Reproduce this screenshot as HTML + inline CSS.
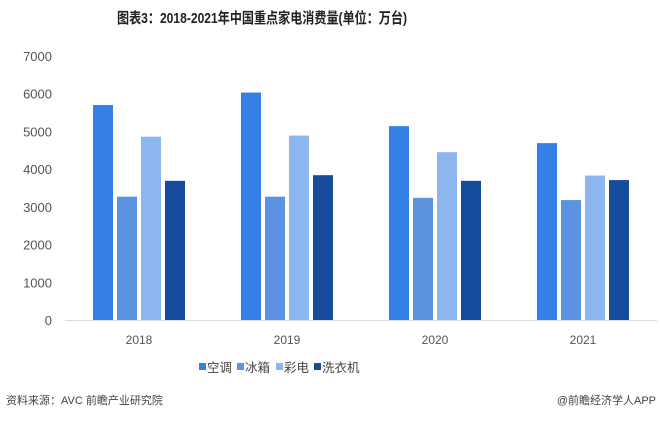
<!DOCTYPE html>
<html><head><meta charset="utf-8"><style>
body{margin:0;background:#fff;width:660px;height:419px;overflow:hidden;font-family:"Liberation Sans","Noto Sans CJK SC",sans-serif}
</style></head><body>
<svg width="660" height="419" xmlns="http://www.w3.org/2000/svg">
<text x="117" y="23" font-size="15" font-weight="bold" fill="#222" textLength="290" lengthAdjust="spacingAndGlyphs">图表3：2018-2021年中国重点家电消费量(单位：万台)</text>
<g id="axes"></g><g id="bars"></g>
<g font-size="12.5" fill="#444">
<rect x="199" y="363" width="7" height="7" fill="#3580e4"/><text x="207" y="372">空调</text>
<rect x="237" y="363" width="7" height="7" fill="#5b93e0"/><text x="245" y="372">冰箱</text>
<rect x="276" y="363" width="7" height="7" fill="#8db6ee"/><text x="284" y="372">彩电</text>
<rect x="314" y="363" width="7" height="7" fill="#174c9c"/><text x="322" y="372">洗衣机</text>
</g>
<text x="6" y="404" font-size="11" fill="#444">资料来源：AVC 前瞻产业研究院</text>
<text x="656" y="404" font-size="11" fill="#444" text-anchor="end">@前瞻经济学人APP</text>
</svg>
<script>
const categories=["2018","2019","2020","2021"];
const seriesNames=["空调","冰箱","彩电","洗衣机"];
const ac=[5700,6030,5140,4690];
const fridge=[3270,3270,3240,3180];
const tv=[4860,4890,4450,3830];
const washer=[3690,3840,3690,3710];
const yTicks=[0,1000,2000,3000,4000,5000,6000,7000];
const ns="http://www.w3.org/2000/svg";
const x0=65,x1=657,y0=320,yTop=56,yMax=7000;
const band=(x1-x0)/categories.length;
const y=v=>y0-(v/yMax)*(y0-yTop);
const axes=document.getElementById('axes'),bars=document.getElementById('bars');
function mk(t,a,p){const e=document.createElementNS(ns,t);for(const k in a)e.setAttribute(k,a[k]);p.appendChild(e);return e;}
yTicks.forEach(v=>{const t=mk('text',{x:52,y:y(v)+5,'text-anchor':'end','font-size':13,fill:'#555'},axes);t.textContent=v;

});
const al=mk('line',{x1:x0,x2:x1,y1:y0+0.5,y2:y0+0.5,stroke:'#d9d9d9'},axes);


categories.forEach((c,i)=>{const t=mk('text',{x:x0+band*(i+0.5),y:344,'text-anchor':'middle','font-size':12,fill:'#555'},axes);t.textContent=c;

});
const series=[ac,fridge,tv,washer],colors=["#3580e4","#5b93e0","#8db6ee","#174c9c"],keys=["ac","fridge","tv","washer"];
const bw=20,step=24;
series.forEach((s,j)=>s.forEach((v,i)=>{const cx=x0+band*(i+0.5);const bx=cx-2*step+2+j*step;
const r=mk('rect',{x:bx,y:y(v),width:bw,height:y0-y(v),fill:colors[j]},bars);

}));
</script>
</body></html>
